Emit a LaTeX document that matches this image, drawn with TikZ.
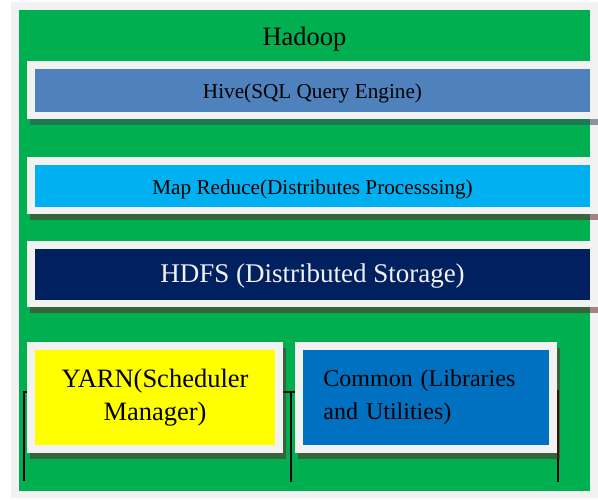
\documentclass[tikz,border=0pt]{standalone}
\usepackage{fontspec}
\setmainfont{Liberation Serif}
\usetikzlibrary{positioning, shadows}
\definecolor{pagegray}{HTML}{F2F2F2}
\definecolor{hadoopgreen}{HTML}{00B050}
\definecolor{hiveblue}{HTML}{4F81BD}
\definecolor{mrcyan}{HTML}{00B0F0}
\definecolor{hdfsnavy}{HTML}{002060}
\definecolor{yarnyellow}{HTML}{FFFF00}
\definecolor{commonblue}{HTML}{0070C0}
\definecolor{hiveshadow}{RGB}{55,74,89}
\definecolor{bandshadow}{RGB}{100,40,42}
\tikzstyle{pagebox} = [rectangle, inner sep=0pt]
\tikzset{boxframe/.style={rectangle, inner sep=0pt, fill=pagegray,
  drop shadow={shadow xshift=2.5pt, shadow yshift=-5.5pt, fill=#1, opacity=0.55}},
  boxframe/.default=bandshadow}
\tikzstyle{band} = [rectangle, inner sep=0pt, text centered, text height=17pt,
text depth=0pt, font=\fontsize{21.2}{25}\selectfont]
\tikzstyle{bracket} = [line width=1.3pt, black]

\begin{document}
\begin{tikzpicture}[x=1pt, y=-1pt, node distance=95.5pt]
  \useasboundingbox (0,0) rectangle (598,499);
  \node (page) [pagebox, fill=pagegray, minimum width=587pt, minimum height=496pt] at (304.5,250) {};
  \node (hadoop) [pagebox, fill=hadoopgreen, minimum width=571pt, minimum height=481pt] at (304.5,250.5) {};
  \node (title) [anchor=base, font=\fontsize{26.5}{30}\selectfont] at (304.5,45) {Hadoop};

  % lines under the lower boxes
  \coordinate (lefttick) at (30,392);
  \coordinate (lefttop) at (24,392);
  \coordinate (leftend) at (24,481);
  \coordinate (midleft) at (281,392);
  \coordinate (midright) at (297,392);
  \coordinate (midtop) at (291,392);
  \coordinate (midend) at (291,482);
  \coordinate (righttick) at (552,391);
  \coordinate (righttop) at (558,391);
  \coordinate (rightend) at (558,482);
  \draw [bracket] (lefttick) -- (lefttop) -- (leftend);
  \draw [bracket] (midleft) -- (midright);
  \draw [bracket] (midtop) -- (midend);
  \draw [bracket] (righttick) -- (righttop) -- (rightend);

  \node (hiveframe) [boxframe=hiveshadow, minimum width=571pt, minimum height=58pt] at (312.5,90) {};
  \node (hive) [band, fill=hiveblue, minimum width=555pt, minimum height=43pt] at (hiveframe) {Hive(SQL Query Engine)};
  \node (mrframe) [boxframe, below of=hiveframe, minimum width=571pt, minimum height=57pt] {};
  \node (mr) [band, fill=mrcyan, minimum width=555pt, minimum height=42pt] at (mrframe) {Map Reduce(Distributes Processsing)};
  \node (hdfsframe) [boxframe, below of=mrframe, yshift=7pt, minimum width=571pt, minimum height=66pt] {};
  \node (hdfs) [band, fill=hdfsnavy, text=pagegray, font=\fontsize{27}{30}\selectfont, minimum width=555pt, minimum height=51pt] at (hdfsframe) {HDFS (Distributed Storage)};

  \node (yarnframe) [boxframe, minimum width=256pt, minimum height=111pt] at (155,397.5) {};
  \node (yarn) [pagebox, fill=yarnyellow, minimum width=240pt, minimum height=95pt, align=center, font=\fontsize{26.5}{33}\selectfont] at (yarnframe) {YARN(Scheduler\\Manager)};
  \node (commonframe) [boxframe, right=12pt of yarnframe, minimum width=262pt, minimum height=111pt] {};
  \node (common) [pagebox, fill=commonblue, minimum width=246pt, minimum height=95pt, text width=206pt, inner xsep=20pt, align=left, font=\fontsize{24}{33}\selectfont] at (commonframe) {Common (Libraries\\and Utilities)};
\end{tikzpicture}
\end{document}
